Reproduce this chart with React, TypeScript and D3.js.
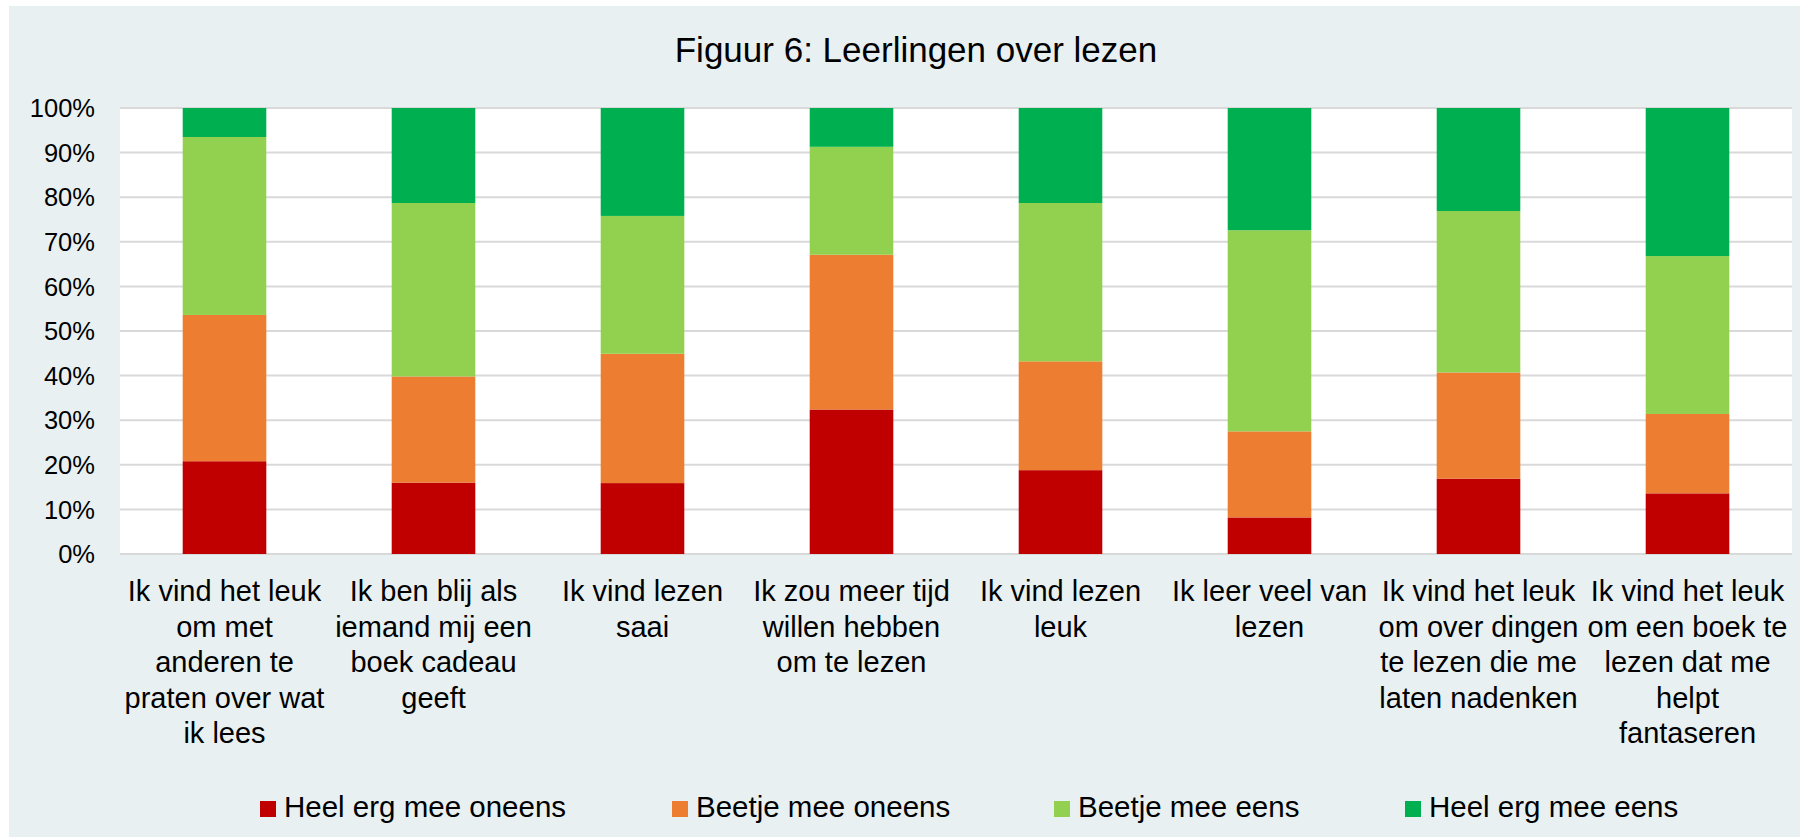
import React from "react";
import * as d3 from "d3";

const categories: string[][] = [
  ["Ik vind het leuk", "om met", "anderen te", "praten over wat", "ik lees"],
  ["Ik ben blij als", "iemand mij een", "boek cadeau", "geeft"],
  ["Ik vind lezen", "saai"],
  ["Ik zou meer tijd", "willen hebben", "om te lezen"],
  ["Ik vind lezen", "leuk"],
  ["Ik leer veel van", "lezen"],
  ["Ik vind het leuk", "om over dingen", "te lezen die me", "laten nadenken"],
  ["Ik vind het leuk", "om een boek te", "lezen dat me", "helpt", "fantaseren"],
];

const seriesNames = ["Heel erg mee oneens", "Beetje mee oneens", "Beetje mee eens", "Heel erg mee eens"];
const heelOneens = [20.8, 16.0, 15.9, 32.4, 18.8, 8.2, 16.9, 13.6];
const beetjeOneens = [32.8, 23.8, 29.0, 34.7, 24.4, 19.3, 23.8, 17.8];
const beetjeEens = [39.9, 38.9, 30.9, 24.2, 35.5, 45.1, 36.2, 35.4];
const heelEens = [6.5, 21.3, 24.2, 8.7, 21.3, 27.4, 23.1, 33.2];
const yTicks = [0, 10, 20, 30, 40, 50, 60, 70, 80, 90, 100];
const title = "Figuur 6: Leerlingen over lezen";

const colors = ["#C00000", "#ED7D31", "#92D050", "#00B050"];
const legendX = [260, 672, 1054, 1405];

const W = 1800;
const H = 837;
const plot = { left: 120, right: 1792, top: 108, bottom: 554 };
const FONT = "'Liberation Sans', Arial, Helvetica, sans-serif";

export default function App() {
  const idx = categories.map((_, i) => i);
  const x = d3.scaleBand<number>().domain(idx).range([plot.left, plot.right]).paddingInner(0.6).paddingOuter(0.3);
  const y = d3.scaleLinear().domain([0, 100]).range([plot.bottom, plot.top]);

  const rows = idx.map((i) => ({
    i,
    s0: heelOneens[i],
    s1: beetjeOneens[i],
    s2: beetjeEens[i],
    s3: heelEens[i],
  }));
  const stack = d3.stack<any>().keys(["s0", "s1", "s2", "s3"]);
  const layers = stack(rows);

  const band = (plot.right - plot.left) / categories.length;

  return (
    <svg width={W} height={H} style={{ position: "absolute", left: 0, top: 0 }} fontFamily={FONT}>
      <rect x={0} y={0} width={W} height={H} fill="#ffffff" />
      <rect x={9} y={6} width={W - 9} height={H - 6} fill="#E8F0F2" />
      <rect x={plot.left} y={plot.top} width={plot.right - plot.left} height={plot.bottom - plot.top} fill="#ffffff" />
      <text x={916} y={62} textAnchor="middle" fontSize={35} fill="#000">
        {title}
      </text>
      {yTicks.map((t) => (
        <g key={t}>
          <line x1={plot.left} x2={plot.right} y1={y(t)} y2={y(t)} stroke="#D9D9D9" strokeWidth={2} />
          <text x={95} y={y(t)} dy="0.36em" textAnchor="end" fontSize={25.5} fill="#000">
            {t}%
          </text>
        </g>
      ))}
      {layers.map((layer, li) => (
        <g key={li} fill={colors[li]}>
          {layer.map((d: any, k: number) => (
            <rect
              key={k}
              x={x(d.data.i)}
              width={x.bandwidth()}
              y={y(Math.min(d[1], 100))}
              height={y(d[0]) - y(Math.min(d[1], 100))}
            />
          ))}
        </g>
      ))}
      {categories.map((lines, i) => (
        <text key={i} x={plot.left + band * (i + 0.5)} y={601} textAnchor="middle" fontSize={29} fill="#000">
          {lines.map((ln, j) => (
            <tspan key={j} x={plot.left + band * (i + 0.5)} dy={j === 0 ? 0 : 35.5}>
              {ln}
            </tspan>
          ))}
        </text>
      ))}
      {seriesNames.map((name, i) => (
        <g key={name}>
          <rect x={legendX[i]} y={801} width={16} height={16} fill={colors[i]} />
          <text x={legendX[i] + 24} y={817} fontSize={29.5} fill="#000">
            {name}
          </text>
        </g>
      ))}
    </svg>
  );
}
